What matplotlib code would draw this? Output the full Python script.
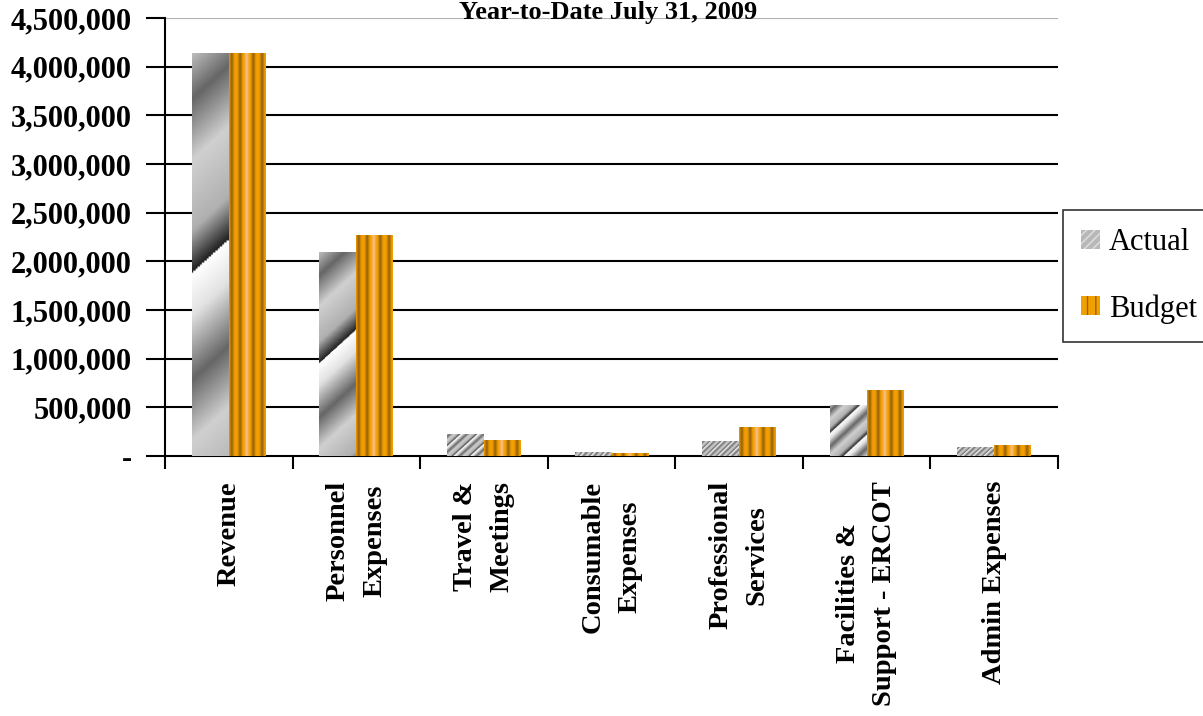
import numpy as np
import matplotlib.pyplot as plt
from matplotlib.colors import LinearSegmentedColormap
from matplotlib.patches import Patch

categories = ["Revenue", "Personnel\nExpenses", "Travel &\nMeetings", "Consumable\nExpenses",
              "Professional\nServices", "Facilities &\nSupport - ERCOT", "Admin Expenses"]
actual = [4140000, 2095000, 226000, 34000, 144000, 514000, 92000]
budget = [4140000, 2270000, 164000, 30000, 288000, 668000, 113000]
yticks = [0, 500000, 1000000, 1500000, 2000000, 2500000, 3000000, 3500000, 4000000, 4500000]

serif = "Liberation Serif"

fig = plt.figure(figsize=(12.03, 7.16), dpi=100)
ax = fig.add_axes([165/1203, 260/716, 893/1203, 438/716])

x = np.arange(len(categories))
w = 0.29
bars_a = ax.bar(x - w/2, actual, w, color="#c8c8c8", zorder=3)
bars_b = ax.bar(x + w/2, budget, w, color="#f0a000", zorder=3)

# gray diagonal gradient for Actual
cm_a = LinearSegmentedColormap.from_list("a", [(0, "#202020"), (0.15, "#b0b0b0"), (0.4, "#d0d0d0"),
                                               (0.62, "#666666"), (0.85, "#e2e2e2"), (1.0, "#ffffff")])
# orange vertical stripes for Budget
cm_b = LinearSegmentedColormap.from_list("b", [(0, "#9a6408"), (0.5, "#f5a000"), (0.8, "#f6b04a"), (1.0, "#f2c08a")])

ypx = 438 / 4.5e6
xpx = 893 / 7.0
for r in bars_a:
    x0, bw, bh = r.get_x(), r.get_width(), r.get_height()
    hp = max(bh * ypx, 1)
    wp = bw * xpx
    period = max(0.7 * hp, 10)
    X, Y = np.meshgrid(np.linspace(0, wp, 60), np.linspace(0, hp, 200))
    t = ((Y - 0.9 * X) / period + 0.35) % 1.0
    ax.imshow(t, cmap=cm_a, extent=[x0, x0 + bw, 0, bh], origin="lower",
              aspect="auto", clip_path=r, zorder=4, interpolation="bilinear")

u = np.linspace(0, 1, 80)
stripe = np.ones_like(u) * 0.5
for c in [0.07, 0.3, 0.66, 0.9]:
    stripe -= 0.5 * np.exp(-((u - c) / 0.05) ** 2)
stripe += 0.5 * np.exp(-((u - 0.48) / 0.05) ** 2)
stripe = np.clip(stripe, 0, 1)
for r in bars_b:
    x0, bw, bh = r.get_x(), r.get_width(), r.get_height()
    ax.imshow(stripe[None, :], cmap=cm_b, vmin=0, vmax=1, extent=[x0, x0 + bw, 0, bh],
              aspect="auto", clip_path=r, zorder=4, interpolation="bilinear")

ax.set_xlim(-0.5, len(categories) - 0.5)
ax.set_ylim(0, 4.5e6)

ax.set_yticks(yticks)
ax.set_yticklabels(["-"] + [f"{v:,.0f}" for v in yticks[1:]],
                   fontfamily=serif, fontweight="bold", fontsize=22)
for v in yticks[1:-1]:
    ax.axhline(v, color="black", lw=1.5, zorder=1)
ax.axhline(yticks[-1], color="#b0b0b0", lw=1.5, zorder=1)

ax.set_xticks(np.arange(len(categories) + 1) - 0.5, minor=False)
ax.set_xticklabels([])
ax.set_xticks(x, minor=True)
ax.set_xticklabels(categories, minor=True, rotation=90, fontfamily=serif,
                   fontweight="bold", fontsize=20.5, linespacing=1.6, va="top", ha="center",
                   multialignment="center")
ax.tick_params(axis="x", which="minor", length=0, pad=18)
ax.tick_params(axis="x", which="major", length=9, width=1.5, direction="out")
ax.tick_params(axis="y", length=14, width=1.5, direction="out", pad=10)

for s in ["top", "right"]:
    ax.spines[s].set_visible(False)
for s in ["left", "bottom"]:
    ax.spines[s].set_linewidth(1.5)

fig.text(608/1203, (716-19)/716, "Year-to-Date July 31, 2009", ha="center", va="baseline",
         fontfamily=serif, fontweight="bold", fontsize=19)

handles = [Patch(facecolor="#b8b8b8", edgecolor="#e0e0e0", hatch="////", lw=0),
           Patch(facecolor="#f0a000", edgecolor="#9a6408", hatch="||", lw=0)]
leg = fig.legend(handles, ["Actual", "Budget"], loc="upper left",
                 bbox_to_anchor=(1063/1203, (716-210)/716), frameon=True, fancybox=False,
                 prop={"family": serif, "size": 22}, handlelength=0.6, handleheight=0.6,
                 handletextpad=0.3, labelspacing=1.2, borderpad=0.6, borderaxespad=0)
leg.get_frame().set_edgecolor("black")
leg.get_frame().set_linewidth(1.2)

fig.savefig("out.png", dpi=100)
